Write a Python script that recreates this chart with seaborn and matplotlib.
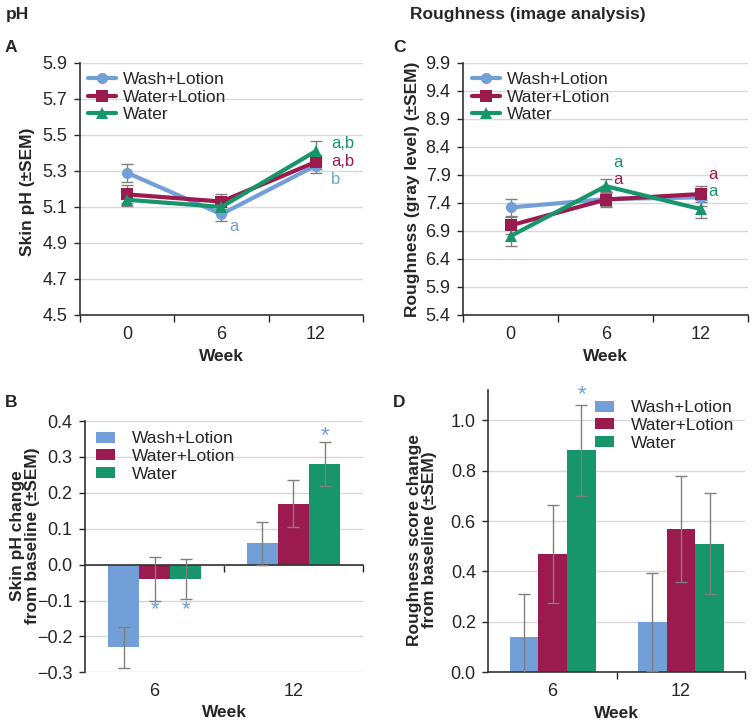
import numpy as np
import pandas as pd
import seaborn as sns
import matplotlib.pyplot as plt
from matplotlib.ticker import FixedLocator, FormatStrFormatter

sns.set_style("white")
plt.rcParams['font.family'] = ['Liberation Sans', 'DejaVu Sans']

# Datos
groups = ["Wash+Lotion", "Water+Lotion", "Water"]
colors = {"Wash+Lotion": "#729fd8", "Water+Lotion": "#9b1b4e", "Water": "#16966a"}
weeks_line = ["0", "6", "12"]
weeks_bar = ["6", "12"]

ph_mean = {"Wash+Lotion": [5.29, 5.06, 5.33],
           "Water+Lotion": [5.17, 5.13, 5.35],
           "Water": [5.14, 5.10, 5.41]}
ph_sem = {"Wash+Lotion": [0.05, 0.04, 0.04],
          "Water+Lotion": [0.05, 0.04, 0.04],
          "Water": [0.035, 0.035, 0.055]}

rough_mean = {"Wash+Lotion": [7.32, 7.47, 7.50],
              "Water+Lotion": [7.00, 7.46, 7.56],
              "Water": [6.81, 7.70, 7.29]}
rough_sem = {"Wash+Lotion": [0.15, 0.12, 0.15],
             "Water+Lotion": [0.15, 0.14, 0.15],
             "Water": [0.17, 0.12, 0.16]}

ph_change = {"Wash+Lotion": [-0.23, 0.06],
             "Water+Lotion": [-0.04, 0.17],
             "Water": [-0.04, 0.28]}
ph_change_sem = {"Wash+Lotion": [0.057, 0.06],
                 "Water+Lotion": [0.06, 0.065],
                 "Water": [0.055, 0.062]}

rough_change = {"Wash+Lotion": [0.14, 0.20],
                "Water+Lotion": [0.47, 0.57],
                "Water": [0.88, 0.51]}
rough_change_sem = {"Wash+Lotion": [0.17, 0.195],
                    "Water+Lotion": [0.195, 0.21],
                    "Water": [0.18, 0.20]}

markers = {"Wash+Lotion": "o", "Water+Lotion": "s", "Water": "^"}
grid_c = "#d9d9d9"
err_c = "#808080"
FS = 13      # ticks
LFS = 12.5   # labels / legend


def long_df(values, sems, cats):
    rows = []
    for g in groups:
        for c, v, s in zip(cats, values[g], sems[g]):
            rows.append({"Week": c, "Group": g, "Value": v, "SEM": s})
    return pd.DataFrame(rows)


def style_axes(ax, yticks, fmt):
    for s in ["top", "right"]:
        ax.spines[s].set_visible(False)
    for s in ["left", "bottom"]:
        ax.spines[s].set_color("#333333")
        ax.spines[s].set_linewidth(1.2)
    ax.yaxis.set_major_locator(FixedLocator(yticks))
    ax.yaxis.set_major_formatter(FormatStrFormatter(fmt))
    ax.grid(axis="y", color=grid_c, linewidth=1)
    ax.set_axisbelow(True)
    ax.tick_params(axis="y", direction="out", length=4, width=1, labelsize=FS, left=True, pad=5)
    ax.set_xlabel("Week", fontsize=LFS, fontweight="bold")


def line_panel(ax, means, sems, yticks, ylabel, labels):
    df = long_df(means, sems, weeks_line)
    df["x"] = df["Week"].map({w: i for i, w in enumerate(weeks_line)})
    for g in groups:
        d = df[df["Group"] == g]
        ax.errorbar(d["x"], d["Value"], yerr=d["SEM"], fmt="none", ecolor=err_c,
                    elinewidth=1, capsize=4, zorder=2)
    sns.lineplot(data=df, x="x", y="Value", hue="Group", style="Group",
                 palette=colors, markers=markers, dashes=False, linewidth=3,
                 markersize=8, markeredgewidth=0, ax=ax, zorder=3)
    ax.set_xlim(-0.5, 2.5)
    ax.set_ylim(yticks[0], yticks[-1])
    ax.set_xticks(range(len(weeks_line)))
    ax.set_xticklabels(weeks_line)
    ax.xaxis.set_minor_locator(FixedLocator([-0.5, 0.5, 1.5, 2.5]))
    ax.tick_params(axis="x", which="major", length=0, labelsize=FS, pad=8)
    ax.tick_params(axis="x", which="minor", length=5, width=1, direction="out", bottom=True)
    style_axes(ax, yticks, "%.1f")
    ax.set_ylabel(ylabel, fontsize=LFS, fontweight="bold")
    ax.legend(loc="upper left", fontsize=LFS, frameon=False, handlelength=1.6,
              borderaxespad=0.1, labelspacing=0.15, handletextpad=0.4)
    for x, y, t, g in labels:
        ax.text(x, y, t, color=colors[g], fontsize=12, ha="left", va="center")


def bar_panel(ax, vals, sems, yticks, ylim, ylabel, stars, legend_loc):
    df = long_df(vals, sems, weeks_bar)
    sns.barplot(data=df, x="Week", y="Value", hue="Group", palette=colors,
                errorbar=None, width=0.67, saturation=1, linewidth=0, ax=ax, zorder=2)
    for cont, g in zip(ax.containers, groups):
        xs = [p.get_x() + p.get_width() / 2 for p in cont]
        hs = [p.get_height() for p in cont]
        ax.errorbar(xs, hs, yerr=sems[g], fmt="none", ecolor=err_c,
                    elinewidth=1, capsize=4, zorder=3)
    ax.set_xlim(-0.5, 1.5)
    ax.set_ylim(*ylim)
    style_axes(ax, yticks, "%.1f")
    ax.set_ylabel(ylabel, fontsize=LFS, fontweight="bold", linespacing=1.0)
    ax.xaxis.set_minor_locator(FixedLocator([0.5, 1.5]))
    ax.tick_params(axis="x", which="major", length=0, labelsize=FS, pad=8)
    ax.tick_params(axis="x", which="minor", length=5, width=1, direction="out", bottom=True)
    ax.legend(loc=legend_loc, fontsize=LFS, frameon=False, handlelength=1.1,
              handleheight=0.6, borderaxespad=0.2, labelspacing=0.15, handletextpad=1.0)
    for x, y in stars:
        ax.text(x, y, "*", color=colors["Wash+Lotion"], fontsize=16, ha="center", va="center")


fig = plt.figure(figsize=(7.53, 7.24), dpi=100)
axA = fig.add_axes([0.106, 0.565, 0.376, 0.348])
axC = fig.add_axes([0.615, 0.565, 0.379, 0.348])
axB = fig.add_axes([0.113, 0.0714, 0.369, 0.347])
axD = fig.add_axes([0.6485, 0.0714, 0.341, 0.39])

line_panel(axA, ph_mean, ph_sem, [4.5, 4.7, 4.9, 5.1, 5.3, 5.5, 5.7, 5.9],
           "Skin pH (±SEM)",
           [(1.08, 4.99, "a", "Wash+Lotion"), (2.16, 5.25, "b", "Wash+Lotion"),
            (2.16, 5.35, "a,b", "Water+Lotion"), (2.16, 5.455, "a,b", "Water")])
line_panel(axC, rough_mean, rough_sem, [5.4, 5.9, 6.4, 6.9, 7.4, 7.9, 8.4, 8.9, 9.4, 9.9],
           "Roughness (gray level) (±SEM)",
           [(1.08, 8.12, "a", "Water"), (1.08, 7.82, "a", "Water+Lotion"),
            (2.08, 7.90, "a", "Water+Lotion"), (2.08, 7.60, "a", "Water")])
axA.yaxis.set_label_coords(-0.158, 0.49)
axC.yaxis.set_label_coords(-0.152, 0.5)

# Panel B: eje x en cero, etiquetas abajo
bar_panel(axB, ph_change, ph_change_sem, [-0.3, -0.2, -0.1, 0.0, 0.1, 0.2, 0.3, 0.4],
          (-0.3, 0.4), "Skin pH change\nfrom baseline (±SEM)",
          [(0.0, -0.125), (0.227, -0.125), (1.227, 0.36)], "upper left")
axB.yaxis.set_major_formatter(plt.FuncFormatter(lambda v, p: f"{v:.1f}".replace("-", "\u2212")))
axB.spines["bottom"].set_position(("data", 0))
axB.set_xticklabels([])
for i, w in enumerate(weeks_bar):
    axB.text(i, -0.33, w, fontsize=FS, ha="center", va="top")
axB.xaxis.set_label_coords(0.5, -0.13)
axB.yaxis.set_label_coords(-0.162, 0.545)

bar_panel(axD, rough_change, rough_change_sem, [0.0, 0.2, 0.4, 0.6, 0.8, 1.0],
          (0.0, 1.12), "Roughness score change\nfrom baseline (±SEM)",
          [(0.227, 1.1)], "upper right")
axD.xaxis.set_label_coords(0.5, -0.12)
axD.yaxis.set_label_coords(-0.2, 0.47)

fig.text(0.008, 0.99, "pH", fontsize=LFS, fontweight="bold", va="top")
fig.text(0.545, 0.99, "Roughness (image analysis)", fontsize=LFS, fontweight="bold", va="top")
fig.text(0.006, 0.945, "A", fontsize=LFS, fontweight="bold", va="top")
fig.text(0.522, 0.945, "C", fontsize=LFS, fontweight="bold", va="top")
fig.text(0.006, 0.455, "B", fontsize=LFS, fontweight="bold", va="top")
fig.text(0.522, 0.455, "D", fontsize=LFS, fontweight="bold", va="top")

fig.savefig("out.png", dpi=100)
